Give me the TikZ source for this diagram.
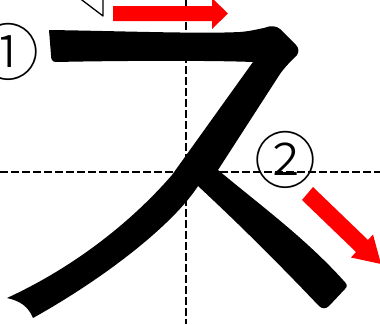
\documentclass[tikz,border=0pt]{standalone}
\usepackage{fontspec}
\newfontfamily\jpfont{Noto Sans CJK JP Light}
\begin{document}
\begin{tikzpicture}[x=1pt,y=-1pt,line join=round,
  guide/.style={line width=2.8pt,dash pattern=on 8pt off 3pt},
  redarrow/.style={fill=red},
  numlabel/.style={inner sep=0pt,font=\jpfont\fontsize{62}{62}\selectfont}]
  \useasboundingbox (0,0) rectangle (380,324);
  \clip (0,0) rectangle (380,324);
  % guide lines
  \draw[guide] (186,0) -- (186,324);
  \draw[guide] (0,172) -- (380,172);
  % stroke 1
  \fill (49,30) .. controls (120,31) and (200,34) .. (240,32)
    .. controls (252,31) and (258,29) .. (264,28)
    .. controls (272,25) and (276,26) .. (280,29) -- (296,45)
    .. controls (299,48) and (299,52) .. (297,55)
    .. controls (290,62) and (285,67) .. (280,74) -- (218,170) -- (198,186)
    .. controls (175,222) and (110,275) .. (33,318)
    .. controls (28,306) and (20,301) .. (7,298)
    .. controls (85,262) and (140,212) .. (172,175) -- (253,62)
    .. controls (200,60) and (100,61) .. (56,62)
    .. controls (52,62) and (51,59) .. (51,55) -- cycle;
  % stroke 2
  \fill (196,170) -- (218,170) .. controls (260,205) and (305,238) .. (343,280)
    .. controls (347,284) and (348,286) .. (345,289) -- (329,306)
    .. controls (326,309) and (322,309) .. (319,306)
    .. controls (280,265) and (240,225) .. (198,186) -- cycle;
  % direction arrows
  \fill[redarrow] (113,6) -- (212,6) -- (212,-2) -- (228,13.5) -- (212,29) -- (212,21) -- (113,21) -- cycle;
  \fill[redarrow] (313,187) -- (368,240) -- (373,234.5) -- (381,264) -- (351,257.5) -- (356,252) -- (302,200) -- cycle;
  \draw[line width=1.3pt] (78,-3) -- (103,16) -- (103,-6);
  % stroke numbers
  \node[numlabel] (n1) at (8,52) {①};
  \node[numlabel] (n2) at (285,160) {②};
\end{tikzpicture}
\end{document}
